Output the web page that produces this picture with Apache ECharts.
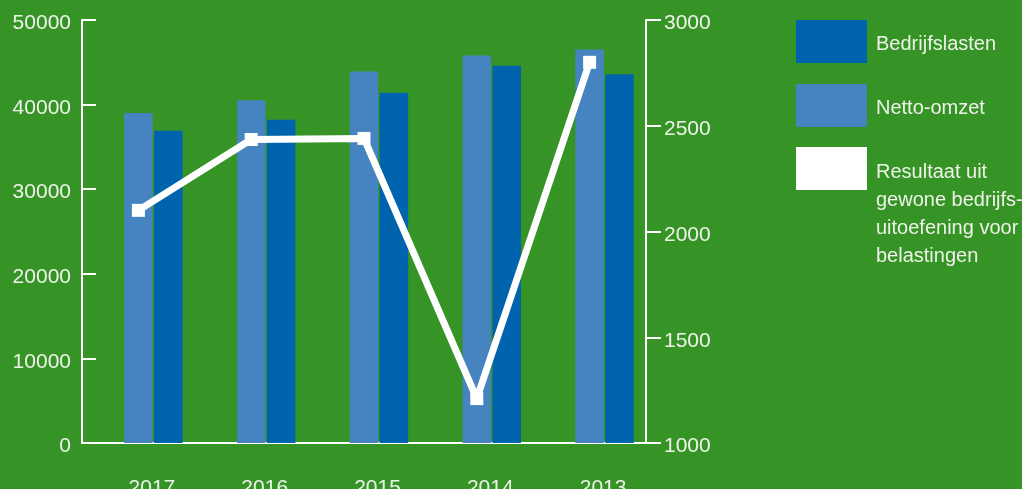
<!DOCTYPE html>
<html>
<head>
<meta charset="utf-8">
<script src="https://cdn.jsdelivr.net/npm/echarts@6/dist/echarts.min.js"></script>
<style>
html,body{margin:0;padding:0;background:#369426;}
#c{width:1022px;height:489px;}
</style>
</head>
<body>
<div id="c"></div>
<script>
var categories = ['2017', '2016', '2015', '2014', '2013'];
var nettoOmzet = [39000, 40500, 43900, 45800, 46500];
var bedrijfslasten = [36900, 38200, 41400, 44600, 43600];
var resultaat = [2100, 2435, 2440, 1210, 2800];
var leftTicks = {min: 0, max: 50000, interval: 10000};
var rightTicks = {min: 1000, max: 3000, interval: 500};
var resultaatLines = ['Resultaat uit', 'gewone bedrijfs-', 'uitoefening voor', 'belastingen'];

var txt = '#eef3ea';
var font = 'Liberation Sans, Arial, sans-serif';
var chart = echarts.init(document.getElementById('c'), null, {renderer: 'canvas'});
var richStyles = {
  g6: {lineHeight: 6, fontSize: 1},
  g92: {lineHeight: 92, fontSize: 1},
  t: {lineHeight: 28, fontSize: 20, color: txt, fontFamily: font}
};
function legendText(gap, lines) {
  return '{' + gap + '| }\n' + lines.map(function (l) { return '{t|' + l + '}'; }).join('\n');
}
var legendBase = {
  orient: 'vertical', left: 796, itemWidth: 71, itemHeight: 43, icon: 'rect',
  selectedMode: false, padding: 0,
  textStyle: {color: txt, fontSize: 20, fontFamily: font, padding: [0, 0, 0, 4], rich: richStyles}
};
var axisRich = {
  g: {lineHeight: 7, fontSize: 1},
  v: {lineHeight: 21, fontSize: 21, color: txt, fontFamily: font}
};
var shifted = function (v) { return '{g| }\n{v|' + v + '}'; };
chart.setOption({
  backgroundColor: '#369426',
  animation: false,
  legend: [
    Object.assign({}, legendBase, {data: ['Bedrijfslasten'], top: 20,
      formatter: function (n) { return legendText('g6', [n]); }}),
    Object.assign({}, legendBase, {data: ['Netto-omzet'], top: 84,
      formatter: function (n) { return legendText('g6', [n]); }}),
    Object.assign({}, legendBase, {
      data: ['Resultaat uit gewone bedrijfsuitoefening voor belastingen'], top: 112,
      formatter: function () { return legendText('g92', resultaatLines); }
    })
  ],
  grid: {left: 82, right: 376, top: 20, bottom: 46, outerBoundsMode: 'none', containLabel: false},
  xAxis: {
    type: 'category', data: categories, boundaryGap: true,
    axisLine: {lineStyle: {color: '#ffffff', width: 2}},
    axisTick: {inside: true, length: 10, interval: 0, lineStyle: {color: '#ffffff', width: 2}},
    axisLabel: {color: txt, fontSize: 21, fontFamily: font, margin: 35, padding: [0, 0, 0, 27]}
  },
  yAxis: [
    {
      type: 'value', min: leftTicks.min, max: leftTicks.max, interval: leftTicks.interval,
      axisLine: {show: true, lineStyle: {color: '#ffffff', width: 2}},
      axisTick: {show: true, inside: true, length: 14, lineStyle: {color: '#ffffff', width: 2}},
      axisLabel: {color: txt, fontSize: 21, fontFamily: font, margin: 11, formatter: shifted, rich: axisRich},
      splitLine: {show: false}
    },
    {
      type: 'value', position: 'right', min: rightTicks.min, max: rightTicks.max, interval: rightTicks.interval,
      axisLine: {show: true, lineStyle: {color: '#ffffff', width: 2}},
      axisTick: {show: true, inside: false, length: 15, lineStyle: {color: '#ffffff', width: 2}},
      axisLabel: {color: txt, fontSize: 21, fontFamily: font, margin: 18, formatter: shifted, rich: axisRich},
      splitLine: {show: false}
    }
  ],
  series: [
    {name: '_pad', type: 'bar', data: categories.map(function () { return '-'; }), barWidth: 28.5, barGap: '5%', silent: true},
    {name: 'Netto-omzet', type: 'bar', data: nettoOmzet, barWidth: 28.5, barGap: '5%', itemStyle: {color: '#4683c1'}},
    {name: 'Bedrijfslasten', type: 'bar', data: bedrijfslasten, barWidth: 28.5, barGap: '5%', itemStyle: {color: '#0063ad'}},
    {name: 'Resultaat uit gewone bedrijfsuitoefening voor belastingen', type: 'line', yAxisIndex: 1, data: resultaat,
     symbol: 'rect', symbolSize: 13, showSymbol: true,
     lineStyle: {color: '#ffffff', width: 7}, itemStyle: {color: '#ffffff', borderWidth: 0}}
  ]
});
</script>
</body>
</html>
